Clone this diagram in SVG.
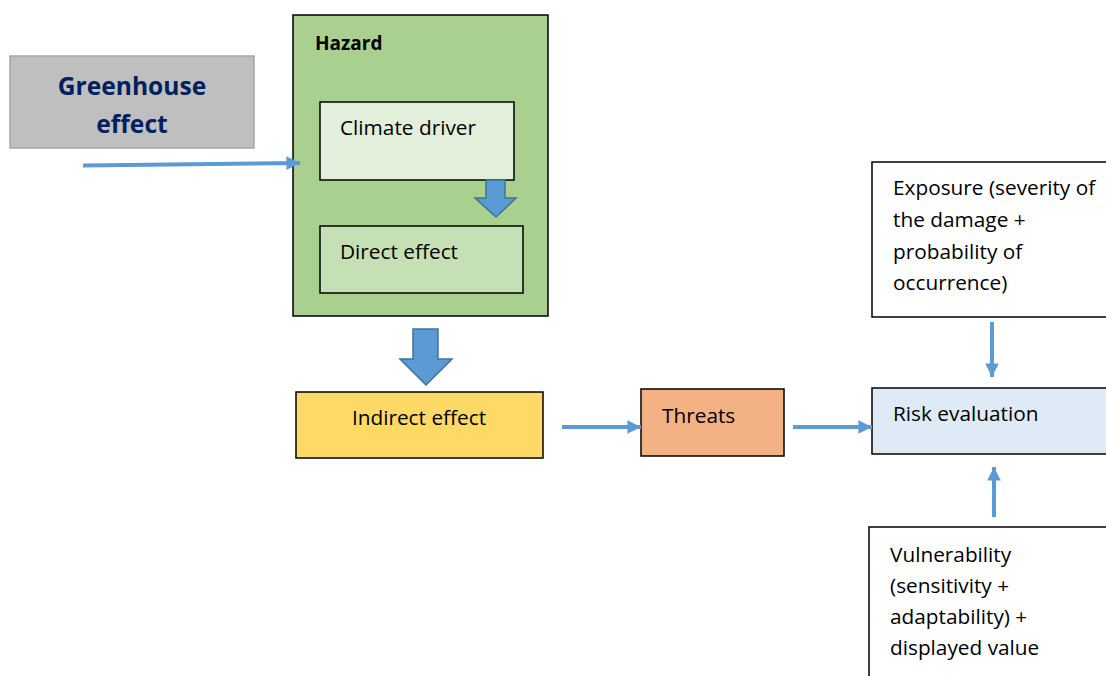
<svg xmlns="http://www.w3.org/2000/svg" width="1106" height="676" viewBox="0 0 1106 676">
  <style>
    .lbl { font-family: "Open Sans", "Liberation Sans", sans-serif; font-size: 20.8px; fill: #000; }
    .box { stroke: #000; stroke-width: 1.5; }
    .line { stroke: #5b9bd5; stroke-width: 4; fill: none; }
    .block { fill: #5b9bd5; stroke: #41719c; stroke-width: 1.5; }
  </style>
  <defs>
    <marker id="head" viewBox="0 0 10 10" refX="10" refY="5" markerWidth="3.4" markerHeight="3.4" orient="auto" markerUnits="strokeWidth">
      <path d="M0,0 L10,5 L0,10 Z" fill="#5b9bd5"/>
    </marker>
  </defs>

  <rect width="1106" height="676" fill="#fff"/>

  <g id="greenhouse">
    <rect x="10" y="56" width="244" height="92" fill="#bfbfbf" stroke="#a6a6a6" stroke-width="1.5"/>
    <text x="132" y="95" text-anchor="middle" font-family="Open Sans, Liberation Sans, sans-serif" font-weight="bold" font-size="24.6" fill="#002060">Greenhouse</text>
    <text x="132" y="133" text-anchor="middle" font-family="Open Sans, Liberation Sans, sans-serif" font-weight="bold" font-size="24.6" fill="#002060">effect</text>
  </g>

  <g id="hazard">
    <rect class="box" x="293" y="15" width="255" height="301" fill="#a9d08e"/>
    <text x="315" y="50" font-family="Open Sans, Liberation Sans, sans-serif" font-weight="bold" font-size="19" fill="#000">Hazard</text>
  </g>

  <g id="climate-driver">
    <rect class="box" x="320" y="102" width="194" height="78" fill="#e2efda"/>
    <text class="lbl" x="340" y="135">Climate driver</text>
  </g>

  <g id="direct-effect">
    <rect class="box" x="320" y="226" width="203" height="67" fill="#c5e0b4"/>
    <text class="lbl" x="340" y="259">Direct effect</text>
  </g>

  <g id="indirect-effect">
    <rect class="box" x="296" y="392" width="247" height="66" fill="#ffd966"/>
    <text class="lbl" x="419" y="425" text-anchor="middle">Indirect effect</text>
  </g>

  <g id="threats">
    <rect class="box" x="641" y="389" width="143" height="67" fill="#f4b183"/>
    <text class="lbl" x="662" y="423">Threats</text>
  </g>

  <g id="risk-evaluation">
    <rect class="box" x="872" y="388" width="240" height="66" fill="#deebf7"/>
    <text class="lbl" x="893" y="421">Risk evaluation</text>
  </g>

  <g id="exposure">
    <rect class="box" x="872" y="162" width="240" height="155" fill="#fff"/>
    <text class="lbl" x="893" y="195">Exposure (severity of</text>
    <text class="lbl" x="893" y="227">the damage +</text>
    <text class="lbl" x="893" y="259">probability of</text>
    <text class="lbl" x="893" y="290">occurrence)</text>
  </g>

  <g id="vulnerability">
    <rect class="box" x="869" y="527" width="245" height="160" fill="#fff"/>
    <text class="lbl" x="890" y="562">Vulnerability</text>
    <text class="lbl" x="890" y="593">(sensitivity +</text>
    <text class="lbl" x="890" y="624">adaptability) +</text>
    <text class="lbl" x="890" y="655">displayed value</text>
  </g>

  <g id="connectors">
    <line class="line" x1="83" y1="165.5" x2="300" y2="163" marker-end="url(#head)"/>
    <path class="block" d="M486,180 L505,180 L505,198 L516,198 L496,217 L475,198 L486,198 Z"/>
    <path class="block" d="M413,329 L438,329 L438,359 L452,359 L426,385 L400,359 L413,359 Z"/>
    <line class="line" x1="562" y1="427" x2="641" y2="427" marker-end="url(#head)"/>
    <line class="line" x1="793" y1="427" x2="872" y2="427" marker-end="url(#head)"/>
    <line class="line" x1="992" y1="322" x2="992" y2="377" marker-end="url(#head)"/>
    <line class="line" x1="994" y1="517" x2="994" y2="467" marker-end="url(#head)"/>
  </g>
</svg>
